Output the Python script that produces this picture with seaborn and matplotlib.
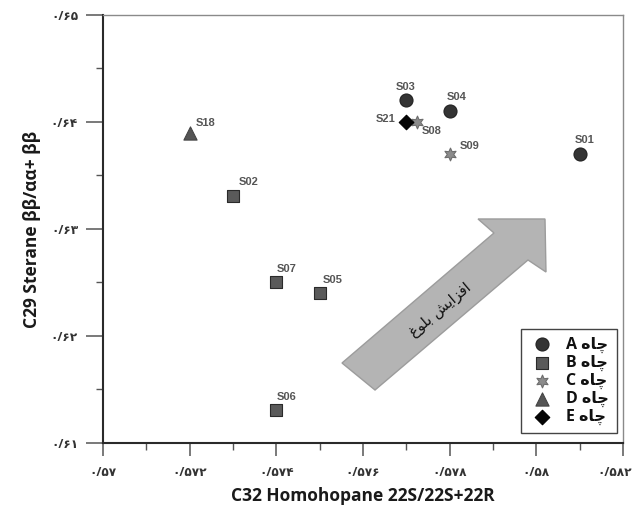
import matplotlib
matplotlib.use("Agg")
import matplotlib.pyplot as plt
from matplotlib.patches import Polygon
from matplotlib.ticker import MultipleLocator, FuncFormatter
from matplotlib.transforms import ScaledTranslation
import pandas as pd
import seaborn as sns

# ---- data -------------------------------------------------------------
samples = ["S01", "S03", "S04", "S21", "S08", "S09", "S18", "S02", "S07", "S05", "S06"]
wells = ["A", "A", "A", "E", "C", "C", "D", "B", "B", "B", "B"]
homohopane = [0.5810, 0.5770, 0.5780, 0.5770, 0.57725, 0.5780, 0.5720, 0.5730, 0.5740, 0.5750, 0.5740]
sterane = [0.6370, 0.6421, 0.6410, 0.6400, 0.6400, 0.6370, 0.6390, 0.6331, 0.6250, 0.6240, 0.6131]

# label placement (pixels from the marker centre)
label_offsets = {
    "S01": (5, 14), "S03": (-1, 13), "S04": (7, 14), "S21": (-21, 3),
    "S08": (15, -9), "S09": (20, 8), "S18": (16, 10), "S02": (16, 14),
    "S07": (10, 13), "S05": (13, 13), "S06": (10, 13),
}

well_order = ["A", "B", "C", "D", "E"]
well_style = {
    "A": dict(marker="o", color="#343434", edgecolor="#222222", s=88),
    "B": dict(marker="s", color="#5a5a5a", edgecolor="#2a2a2a", s=78),
    "C": dict(marker=(6, 1, 0), color="#8c8c8c", edgecolor="#6e6e6e", s=85),
    "D": dict(marker="^", color="#555555", edgecolor="#444444", s=90),
    "E": dict(marker="D", color="#050505", edgecolor="#000000", s=55),
}

# ---- minimal Persian shaping (presentation forms, visual order) --------
# forms: isolated, final, initial, medial (None when the letter never joins forward)
FORMS = {
    "ا": ("\uFE8D", "\uFE8E", None, None),
    "ب": ("\uFE8F", "\uFE90", "\uFE91", "\uFE92"),
    "ف": ("\uFED1", "\uFED2", "\uFED3", "\uFED4"),
    "ز": ("\uFEAF", "\uFEB0", None, None),
    "ی": ("\uFBFC", "\uFBFD", "\uFBFE", "\uFBFF"),
    "ش": ("\uFEB5", "\uFEB6", "\uFEB7", "\uFEB8"),
    "ل": ("\uFEDD", "\uFEDE", "\uFEDF", "\uFEE0"),
    "و": ("\uFEED", "\uFEEE", None, None),
    "غ": ("\uFECD", "\uFECE", "\uFECF", "\uFED0"),
    "چ": ("\uFB7A", "\uFB7B", "\uFB7C", "\uFB7D"),
    "ه": ("\uFEE9", "\uFEEA", "\uFEEB", "\uFEEC"),
}


def rtl(text):
    out = []
    for i, ch in enumerate(text):
        if ch not in FORMS:
            out.append(ch)
            continue
        prev = text[i - 1] if i > 0 else None
        nxt = text[i + 1] if i + 1 < len(text) else None
        joins_prev = prev in FORMS and FORMS[prev][2] is not None
        joins_next = nxt in FORMS and FORMS[ch][2] is not None
        iso, fin, ini, med = FORMS[ch]
        if joins_prev and joins_next:
            out.append(med)
        elif joins_prev:
            out.append(fin)
        elif joins_next:
            out.append(ini)
        else:
            out.append(iso)
    return "".join(reversed(out))


PERSIAN_DIGITS = str.maketrans("0123456789.", "۰۱۲۳۴۵۶۷۸۹/")


def persian_number(v, _pos=None):
    s = f"{v:.3f}".rstrip("0").rstrip(".")
    return s.translate(PERSIAN_DIGITS)


# ---- figure -----------------------------------------------------------
sns.set_theme(style="ticks")
plt.rcParams["font.family"] = ["Open Sans", "DejaVu Sans"]

df = pd.DataFrame({"sample": samples, "well": wells,
                   "homohopane": homohopane, "sterane": sterane})

fig = plt.figure(figsize=(6.4, 5.11), dpi=100)
ax = fig.add_axes([103 / 640, 68 / 511, 520 / 640, 428 / 511])

for w in well_order:
    st = well_style[w]
    sns.scatterplot(data=df[df["well"] == w], x="homohopane", y="sterane",
                    marker=st["marker"], color=st["color"], edgecolor=st["edgecolor"],
                    linewidth=0.8, s=st["s"], ax=ax, zorder=3,
                    label=f"{w} {rtl('چاه')}")

for name, x, y in zip(samples, homohopane, sterane):
    dx, dy = label_offsets[name]
    ax.annotate(name, (x, y), xytext=(dx, dy), textcoords="offset pixels",
                ha="center", va="center", fontsize=8, fontweight="bold",
                color="#555555", family=["Liberation Sans", "DejaVu Sans"])

x_min, x_max = 0.570, 0.582
ax.set_xlim(x_min, x_max)
ax.set_ylim(0.610, 0.650)
ax.xaxis.set_major_locator(MultipleLocator(0.002))
ax.xaxis.set_minor_locator(MultipleLocator(0.001))
ax.yaxis.set_major_locator(MultipleLocator(0.01))
ax.yaxis.set_minor_locator(MultipleLocator(0.005))
ax.xaxis.set_major_formatter(FuncFormatter(persian_number))
ax.yaxis.set_major_formatter(FuncFormatter(persian_number))

ax.tick_params(which="major", direction="out", length=12, width=1.1, color="#555555",
               labelsize=8.7, labelcolor="#333333", pad=6)
ax.tick_params(which="minor", direction="out", length=5, width=1.0, color="#555555")
ax.tick_params(axis="x", which="major", length=9.5, pad=7)

for side in ("left", "bottom"):
    ax.spines[side].set_color("#2a2a2a")
    ax.spines[side].set_linewidth(1.5)
for side in ("top", "right"):
    ax.spines[side].set_visible(True)
    ax.spines[side].set_color("#8a8a8a")
    ax.spines[side].set_linewidth(1.0)

ax.set_xlabel("C32 Homohopane 22S/22S+22R", fontsize=12.5, fontweight="bold",
              color="#1a1a1a", labelpad=6)
ax.set_ylabel("C29 Sterane ββ/αα+ ββ", fontsize=12.5, fontweight="bold",
              color="#1a1a1a", labelpad=7, family=["Open Sans", "DejaVu Sans"])

# maturity trend arrow (axes fraction)
arrow_pts = [(0.4596, 0.1869), (0.7519, 0.4907), (0.7212, 0.5234), (0.8500, 0.5234),
             (0.8519, 0.3995), (0.8173, 0.4276), (0.5231, 0.1238)]
ax.add_patch(Polygon(arrow_pts, closed=True, transform=ax.transAxes,
                     facecolor="#b4b4b4", edgecolor="#9c9c9c", linewidth=1.0, zorder=1))
ax.text(0.648, 0.311, rtl("افزایش بلوغ"), transform=ax.transAxes, rotation=40,
        ha="center", va="center", fontsize=10.5, color="#111111",
        family=["DejaVu Sans"], zorder=2)

leg = ax.legend(loc="lower right", bbox_to_anchor=(0.988, 0.023), borderaxespad=0,
                frameon=True, fancybox=False, edgecolor="#444444", framealpha=1,
                prop={"size": 11.5, "weight": "bold", "family": ["Open Sans", "DejaVu Sans"]},
                labelspacing=0.12, handletextpad=0.7, handlelength=1.6,
                borderpad=0.5, markerscale=1.0)
leg.get_frame().set_linewidth(1.0)
for t in leg.get_texts():
    t.set_color("#111111")

# bold tick labels; nudge the right-most x label so it stays on the canvas
fig.canvas.draw()
last_text = persian_number(x_max)
for tick in ax.xaxis.get_major_ticks() + ax.yaxis.get_major_ticks():
    tick.label1.set_fontweight("bold")
for tick in ax.xaxis.get_major_ticks():
    if tick.label1.get_text() == last_text:
        tick.label1.set_transform(tick.label1.get_transform()
                                  + ScaledTranslation(-8 / 100, 0, fig.dpi_scale_trans))

fig.savefig("out.png", dpi=100)
